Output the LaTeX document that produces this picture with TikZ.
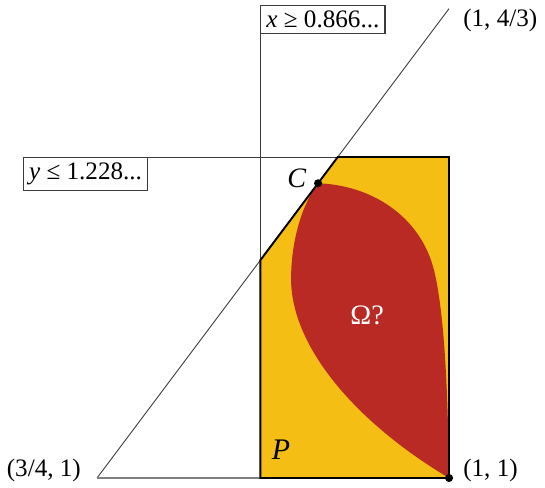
\documentclass[tikz,border=0pt]{standalone}
\usepackage{fontspec}
\setmainfont{Liberation Serif}
\usetikzlibrary{positioning}
\definecolor{regyellow}{RGB}{245,190,20}
\definecolor{regred}{RGB}{185,42,36}
\definecolor{thingrey}{RGB}{60,60,60}
\tikzset{
  thinline/.style={line width=0.5pt, draw=thingrey},
  polyline/.style={line width=1.1pt, draw=black, line join=miter},
  boundbox/.style={
    draw=thingrey,
    line width=0.6pt,
    inner sep=3.2pt,
    font=\fontsize{14.3}{17}\selectfont
  },
  ptlabel/.style={font=\fontsize{14.3}{17}\selectfont},
  dot/.style={circle, fill=black, inner sep=0pt, minimum size=4.6pt}
}

\begin{document}
\begin{tikzpicture}[x=28.16cm, y=28.16cm]
  \useasboundingbox (0.68111,0.99361) rectangle (1.06818,1.33949);

  % triangle corners and the two bounds
  \coordinate (A) at (0.75,1);
  \coordinate (B) at (1,1);
  \coordinate (T) at (1,4/3);
  \coordinate (xlow) at (0.866,1);
  \coordinate (xhyp) at (0.866,1.15467);
  \coordinate (yhyp) at (0.921,1.228);
  \coordinate (yright) at (1,1.228);
  \coordinate (C) at (0.907,1.2093);

  % region P
  \fill[regyellow] (xlow) -- (B) -- (yright) -- (yhyp) -- (xhyp) -- cycle;

  % region Omega
  \fill[regred] (C) .. controls (0.9439,1.2081) and (0.9794,1.1868) .. (0.9893,1.1477)
    .. controls (0.9972,1.1158) and (0.9993,1.0554) .. (B)
    .. controls (0.9368,1.0376) and (0.8885,1.0909) .. (0.8878,1.1406)
    .. controls (0.8878,1.1726) and (0.8977,1.1974) .. (C) -- cycle;

  % bound boxes
  \node[boundbox, anchor=south west] (xbound) at (0.866,1.3153) {\textit{x} ≥ 0.866...};
  \node[boundbox, anchor=north west] (ybound) at (0.6974,1.228) {\textit{y} ≤ 1.228...};

  % thin lines
  \draw[thinline] (xlow) -- (xbound.south west);
  \draw[thinline] (ybound.north east) -- (yright);
  \draw[thinline] (A) -- (T);
  \draw[thinline, draw=gray, line width=0.8pt] (A) -- (xlow);

  % border of P
  \draw[polyline] (xlow) -- (B) -- (yright) -- (yhyp) -- (xhyp) -- cycle;

  % points and labels
  \node[dot] (Bdot) at (B) {};
  \node[dot] (Cdot) at (C) {};
  \node[ptlabel, anchor=east] (Alab) at (0.7429,1.0050) {(3/4, 1)};
  \node[ptlabel, anchor=west] (Blab) at (1.0057,1.0050) {(1, 1)};
  \node[ptlabel, anchor=west] (Tlab) at (1.0057,1.3253) {(1, 4/3)};
  \node[ptlabel, font=\fontsize{16}{18}\selectfont] (Clab) at (0.892,1.213) {\textit{C}};
  \node[ptlabel, font=\fontsize{17}{19}\selectfont] (Plab) at (0.8807,1.0199) {\textit{P}};
  \node[ptlabel, text=white, font=\fontsize{16}{18}\selectfont] (Olab) at (0.9418,1.1158) {Ω?};
\end{tikzpicture}
\end{document}
